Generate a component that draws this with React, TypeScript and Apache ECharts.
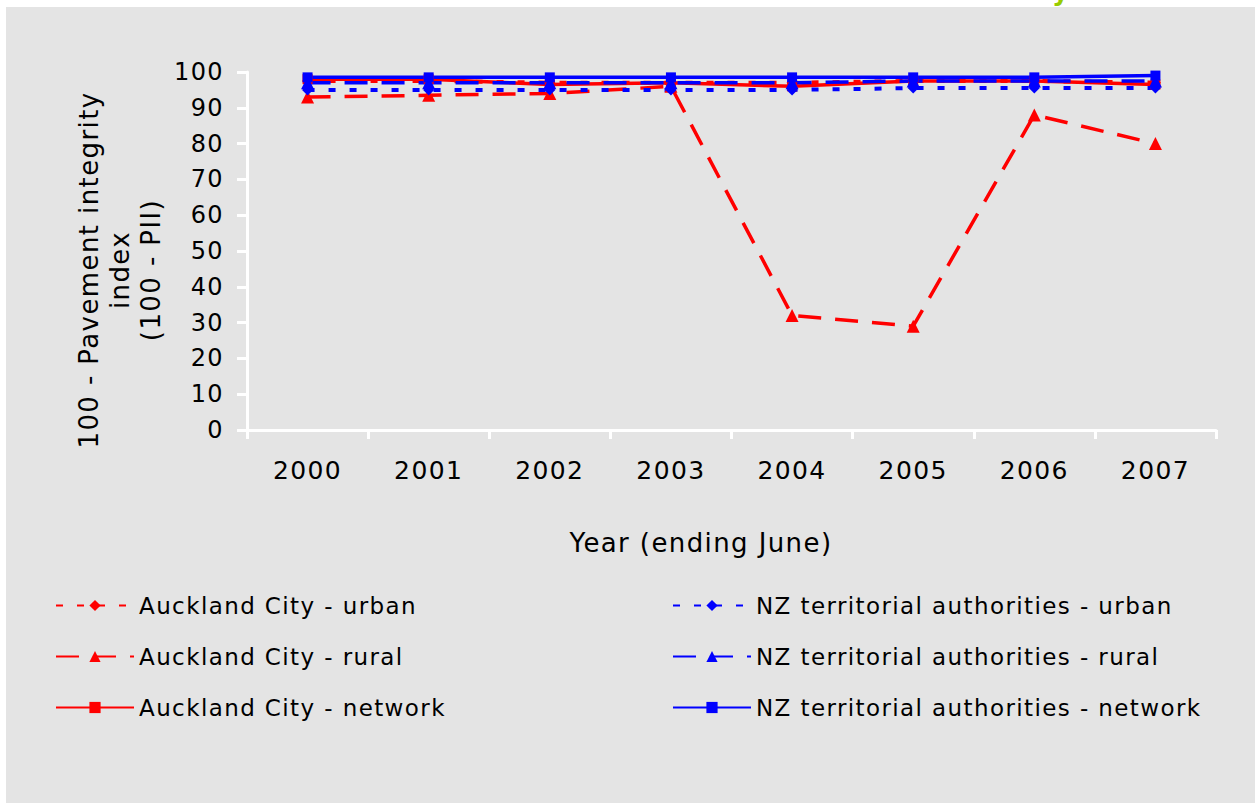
import React, { useEffect, useRef } from "react";
import * as echarts from "echarts";

const years = ["2000", "2001", "2002", "2003", "2004", "2005", "2006", "2007"];
const aklUrban = [97.5, 97.5, 97, 97, 97, 97.5, 97.5, 97];
const aklRural = [93, 93.5, 94, 96, 32, 29, 88, 80];
const aklNetwork = [98, 98, 96.5, 97, 96, 97.5, 97.5, 96.5];
const nzUrban = [95, 95, 95, 95, 95, 95.5, 95.5, 95.5];
const nzRural = [97, 97, 97, 97, 97, 97.5, 97.5, 97.5];
const nzNetwork = [98.5, 98.5, 98.5, 98.5, 98.5, 98.5, 98.5, 99];
const yTitle = ["100 - Pavement integrity", "index", "(100 - PII)"];
const xTitle = "Year (ending June)";
const aklNames = ["Auckland City - urban", "Auckland City - rural", "Auckland City - network"];
const nzNames = [
  "NZ territorial authorities - urban",
  "NZ territorial authorities - rural",
  "NZ territorial authorities - network",
];

const FONT = "DejaVu Sans";
const RED = "#ff0000";
const BLUE = "#0000ff";
const DOTTED = [7, 14];
const DASHED = [23, 14];

export default function App() {
  const ref = useRef<HTMLDivElement>(null);
  useEffect(() => {
    if (!ref.current) return;
    const chart = echarts.init(ref.current, null, { renderer: "svg" });
    const mk = (name: string, data: number[], color: string, type: any, symbol: string, size: number, width: number) => ({
      name,
      type: "line",
      data,
      symbol,
      symbolSize: size,
      itemStyle: { color },
      lineStyle: { color, type, width, cap: "butt" },
    });
    const legendBase = {
      orient: "vertical",
      top: 586,
      padding: 0,
      itemWidth: 78,
      itemHeight: 14,
      itemGap: 26,
      textStyle: { fontFamily: FONT, fontSize: 23, color: "#000", lineHeight: 25 },
    };
    chart.setOption({
      animation: false,
      backgroundColor: "#e4e4e4",
      textStyle: { fontFamily: FONT },
      grid: { left: 241, right: 39, top: 65, bottom: 373, containLabel: false },
      xAxis: {
        type: "category",
        data: years,
        boundaryGap: true,
        axisLine: { lineStyle: { color: "#ffffff", width: 3 } },
        axisTick: { show: true, length: 9, lineStyle: { color: "#ffffff", width: 3 } },
        axisLabel: { color: "#000", fontSize: 25, fontFamily: FONT, margin: 28 },
        splitLine: { show: false },
      },
      yAxis: {
        type: "value",
        min: 0,
        max: 100,
        interval: 10,
        axisLine: { show: true, lineStyle: { color: "#ffffff", width: 3 } },
        axisTick: { show: true, length: 10, lineStyle: { color: "#ffffff", width: 3 } },
        axisLabel: { color: "#000", fontSize: 24, fontFamily: FONT, margin: 23 },
        splitLine: { show: false },
      },
      legend: [
        { ...legendBase, left: 49, data: aklNames },
        { ...legendBase, left: 666, data: nzNames },
      ],
      graphic: [
        {
          type: "text",
          x: 114,
          y: 263,
          rotation: Math.PI / 2,
          style: {
            text: yTitle.join("\n"),
            fill: "#000",
            fontFamily: FONT,
            fontSize: 26,
            lineHeight: 31,
            align: "center",
            verticalAlign: "middle",
          },
        },
        {
          type: "text",
          x: 695,
          y: 536,
          style: {
            text: xTitle,
            fill: "#000",
            fontFamily: FONT,
            fontSize: 26,
            align: "center",
            verticalAlign: "middle",
          },
        },
      ],
      series: [
        mk(aklNames[0], aklUrban, RED, DOTTED, "diamond", 11, 4),
        mk(aklNames[1], aklRural, RED, DASHED, "triangle", 13, 3.5),
        mk(aklNames[2], aklNetwork, RED, "solid", "rect", 10, 3.5),
        mk(nzNames[0], nzUrban, BLUE, DOTTED, "diamond", 11, 4),
        mk(nzNames[1], nzRural, BLUE, DASHED, "triangle", 13, 3.5),
        mk(nzNames[2], nzNetwork, BLUE, "solid", "rect", 10, 3.5),
      ],
    });
    return () => chart.dispose();
  }, []);
  return (
    <div style={{ position: "absolute", left: 0, top: 0, width: 1255, height: 803, background: "#ffffff", overflow: "hidden" }}>
      <style>{"#chartbox text { letter-spacing: 1.4px; }"}</style>
      <div style={{ position: "absolute", left: 1052, top: 0, width: 30, height: 7, overflow: "hidden" }}>
        <span style={{ position: "absolute", left: 0, top: -22, fontFamily: FONT, fontWeight: "bold", fontSize: 26, lineHeight: "26px", color: "#99cc00" }}>y</span>
      </div>
      <div id="chartbox" ref={ref} style={{ position: "absolute", left: 6, top: 7, width: 1249, height: 796 }} />
    </div>
  );
}
